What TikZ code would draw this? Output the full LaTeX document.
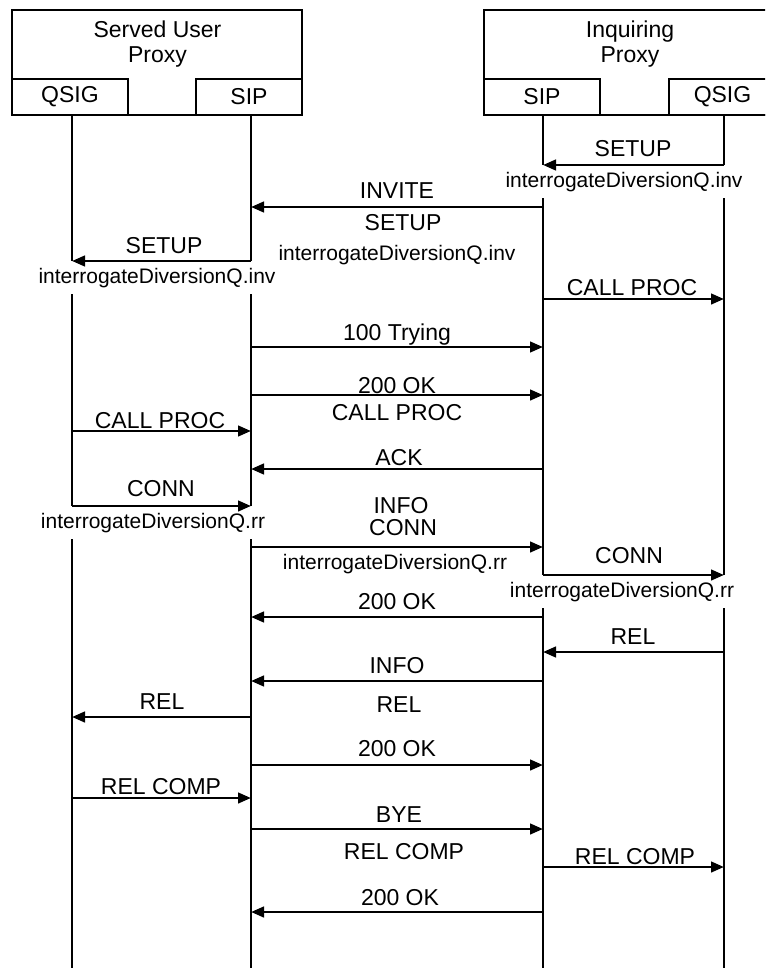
\documentclass[tikz,border=0pt]{standalone}
\usepackage{fontspec}
\setmainfont{Liberation Sans}
\usetikzlibrary{arrows.meta}
\newcommand\msgline[4]{\coordinate (#4a) at (#1,#3); \coordinate (#4b) at (#2,#3); \draw[msg] (#4a) -- (#4b);}
\begin{document}
\begin{tikzpicture}[x=1pt,y=-1pt,
  lbl/.style={anchor=base, inner sep=0pt, font=\fontsize{23}{25}\selectfont},
  slbl/.style={anchor=base, inner sep=0pt, font=\fontsize{21}{24}\selectfont},
  ilbl/.style={anchor=north, fill=white, inner xsep=2pt, inner ysep=0pt, minimum height=33pt, font=\fontsize{21}{24}\selectfont},
  bigbox/.style={draw, line width=2.6pt, minimum height=105pt, inner sep=0pt},
  subbox/.style={draw, line width=1.8pt, minimum height=36pt, inner sep=0pt, font=\fontsize{23}{25}\selectfont},
  title/.style={anchor=north, align=center, inner sep=0pt, font=\fontsize{23}{25}\selectfont},
  life/.style={line width=2pt},
  msg/.style={line width=2.8pt, -{Triangle[length=13pt,width=10.5pt]}}]
\useasboundingbox (0,0) rectangle (765,968);
\clip (0,0) rectangle (765,968);
% entities
\node[subbox, minimum width=116pt] (qsigL) at (70,97) {QSIG};
\node[subbox, minimum width=106pt] (sipL) at (249,97) {SIP};
\node[subbox, minimum width=116pt] (sipR) at (542,97) {SIP};
\node[subbox, minimum width=107pt] (qsigR) at (722.5,97) {QSIG};
\node[bigbox, minimum width=290pt] (sup) at (157,62.5) {};
\node[bigbox, minimum width=292pt] (inq) at (630,62.5) {};
\node[title] (supt) at (157.5,20.5) {Served User\\Proxy};
\node[title] (inqt) at (630,20.5) {Inquiring\\Proxy};
% lifelines
\coordinate (qLt) at (72,115);  \coordinate (qLb) at (72,968);
\coordinate (sLt) at (251,115); \coordinate (sLb) at (251,968);
\coordinate (sRt) at (543,115); \coordinate (sRb) at (543,968);
\coordinate (qRt) at (724,115); \coordinate (qRb) at (724,968);
\draw[life] (qLt) -- (qLb);
\draw[life] (sLt) -- (sLb);
\draw[life] (sRt) -- (sRb);
\draw[life] (qRt) -- (qRb);
% labels
\node[lbl] (l1) at (633,157) {SETUP};
\node[ilbl] (l1b) at (624,165) {interrogateDiversionQ.inv};
\node[lbl] (l2) at (397,199) {INVITE};
\node[lbl] (l2b) at (403,230) {SETUP};
\node[slbl] (l2c) at (397,260) {interrogateDiversionQ.inv};
\node[lbl] (l3) at (164,254) {SETUP};
\node[ilbl] (l3b) at (157,261) {interrogateDiversionQ.inv};
\node[lbl] (l4) at (632,295) {CALL PROC};
\node[lbl] (l5) at (397,340) {100 Trying};
\node[lbl] (l6) at (397,393) {200 OK};
\node[lbl] (l6b) at (397,420) {CALL PROC};
\node[lbl] (l7) at (160,428) {CALL PROC};
\node[lbl] (l8) at (399,465) {ACK};
\node[lbl] (l9) at (161,496) {CONN};
\node[ilbl] (l9b) at (153,506) {interrogateDiversionQ.rr};
\node[lbl] (l10) at (401,513) {INFO};
\node[lbl] (l10b) at (403,535) {CONN};
\node[slbl] (l10c) at (395,569) {interrogateDiversionQ.rr};
\node[lbl] (l11) at (629,563) {CONN};
\node[ilbl] (l11b) at (622,575) {interrogateDiversionQ.rr};
\node[lbl] (l12) at (397,609) {200 OK};
\node[lbl] (l13) at (633,644) {REL};
\node[lbl] (l14) at (397,673) {INFO};
\node[lbl] (l15) at (162,709) {REL};
\node[lbl] (l14b) at (399,712) {REL};
\node[lbl] (l16) at (397,756) {200 OK};
\node[lbl] (l17) at (161,794) {REL COMP};
\node[lbl] (l18) at (399,822) {BYE};
\node[lbl] (l18b) at (404,859) {REL COMP};
\node[lbl] (l19) at (635,864) {REL COMP};
\node[lbl] (l20) at (400,905) {200 OK};
% messages
\msgline{724}{543}{165}{m1}
\msgline{543}{251}{207}{m2}
\msgline{251}{72}{261}{m3}
\msgline{543}{724}{299}{m4}
\msgline{251}{543}{347}{m5}
\msgline{251}{543}{395}{m6}
\msgline{72}{251}{431}{m7}
\msgline{543}{251}{469}{m8}
\msgline{72}{251}{506}{m9}
\msgline{251}{543}{547}{m10}
\msgline{543}{724}{575}{m11}
\msgline{543}{251}{617}{m12}
\msgline{724}{543}{652}{m13}
\msgline{543}{251}{681}{m14}
\msgline{251}{72}{717}{m15}
\msgline{251}{543}{765}{m16}
\msgline{72}{251}{798}{m17}
\msgline{251}{543}{829}{m18}
\msgline{543}{724}{867}{m19}
\msgline{543}{251}{912}{m20}
\end{tikzpicture}
\end{document}
